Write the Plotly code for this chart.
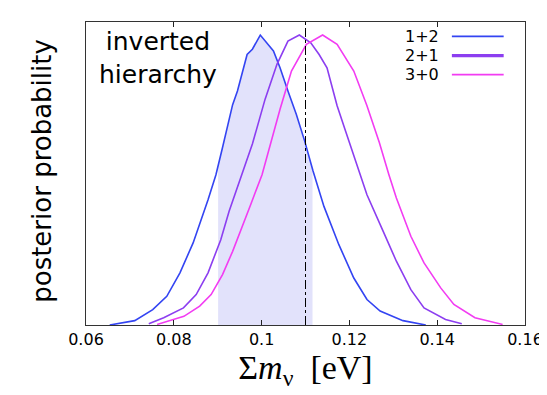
import numpy as np
import plotly.graph_objects as go

# ---- data ----
x_12 = [0.0654, 0.0711, 0.0752, 0.0784, 0.0814, 0.0844, 0.0878, 0.0896, 0.0911, 0.0934,
        0.0945, 0.0967, 0.0979, 0.0997, 0.1027, 0.1042, 0.1060, 0.1079, 0.1098, 0.1117,
        0.1142, 0.1176, 0.1210, 0.1240, 0.1270, 0.1322, 0.1374]
y_12 = [0.0, 0.015, 0.053, 0.099, 0.180, 0.283, 0.432, 0.518, 0.612, 0.760,
        0.807, 0.933, 0.951, 1.0, 0.945, 0.887, 0.807, 0.727, 0.635, 0.532,
        0.409, 0.277, 0.162, 0.088, 0.048, 0.015, 0.0]

x_21 = [0.0743, 0.0777, 0.0822, 0.0851, 0.0878, 0.0907, 0.0926, 0.0956, 0.0979, 0.1008,
        0.1035, 0.1060, 0.1086, 0.1112, 0.1131, 0.1149, 0.1172, 0.1191, 0.1209, 0.1225,
        0.1240, 0.1277, 0.1307, 0.1340, 0.1370, 0.1419, 0.1456]
y_21 = [0.004, 0.025, 0.059, 0.105, 0.180, 0.294, 0.392, 0.520, 0.624, 0.779,
        0.899, 0.979, 1.0, 0.973, 0.933, 0.887, 0.756, 0.670, 0.589, 0.520,
        0.449, 0.323, 0.220, 0.122, 0.059, 0.019, 0.004]

x_30 = [0.0762, 0.0823, 0.0859, 0.0885, 0.0911, 0.0934, 0.0975, 0.1001, 0.1042, 0.1068,
        0.1102, 0.1139, 0.1172, 0.1210, 0.1240, 0.1268, 0.1290, 0.1307, 0.1340, 0.1370,
        0.1408, 0.1438, 0.1486, 0.1549]
y_30 = [0.002, 0.030, 0.065, 0.105, 0.174, 0.254, 0.415, 0.518, 0.744, 0.876,
        0.968, 1.0, 0.968, 0.876, 0.756, 0.630, 0.518, 0.438, 0.306, 0.214,
        0.128, 0.071, 0.025, 0.002]

series_names = ["1+2", "2+1", "3+0"]
shade_lo, shade_hi = 0.0901, 0.1116   # credible interval of 1+2
vline_x = 0.110
tick_vals = [0.06, 0.08, 0.10, 0.12, 0.14, 0.16]
tick_text = ["0.06", "0.08", "0.1", "0.12", "0.14", "0.16"]

colors = ["#3344f2", "#8c3ef0", "#f23cf2"]
FONT = "DejaVu Sans"

fig = go.Figure()

# shaded region under the 1+2 curve
xs = np.linspace(shade_lo, shade_hi, 60)
ys = np.interp(xs, x_12, y_12)
fig.add_trace(go.Scatter(x=xs, y=ys, mode="lines", line=dict(width=0),
                         fill="tozeroy", fillcolor="#e2e2fb", showlegend=False,
                         hoverinfo="skip"))

for xv, yv, name, c in zip([x_12, x_21, x_30], [y_12, y_21, y_30], series_names, colors):
    fig.add_trace(go.Scatter(x=xv, y=yv, mode="lines", name=name,
                             line=dict(color=c, width=1.6), showlegend=False))

fig.add_vline(x=vline_x, line=dict(color="black", width=1, dash="dashdot"))

# manual legend (text left of sample line)
W, H = 446.7, 304.0
def px(xp):
    return (xp - 78) / W
def py(yp):
    return (317.5 - yp) / H

leg_y = [28.0, 47.3, 66.3]
leg_w = [1.8, 3.2, 1.8]
for name, c, yy, lw in zip(series_names, colors, leg_y, leg_w):
    fig.add_annotation(x=px(439), y=py(yy), xref="paper", yref="paper", text=name,
                       showarrow=False, xanchor="right", yanchor="middle",
                       font=dict(family=FONT, size=16, color="black"))
    fig.add_shape(type="line", xref="paper", yref="paper",
                  x0=px(450.3), x1=px(503), y0=py(yy), y1=py(yy),
                  line=dict(color=c, width=lw))

fig.add_annotation(x=px(151), y=py(50), xref="paper", yref="paper",
                   text="inverted<br>hierarchy", showarrow=False,
                   xanchor="center", yanchor="middle",
                   font=dict(family=FONT, size=25, color="black"))

# y axis title
fig.add_annotation(x=px(33), y=py(163), xref="paper", yref="paper",
                   text="posterior probability", showarrow=False, textangle=-90,
                   xanchor="center", yanchor="middle",
                   font=dict(family=FONT, size=26, color="black"))

fig.update_layout(
    width=547, height=395,
    margin=dict(l=78, r=22, t=13.5, b=77.5),
    paper_bgcolor="white", plot_bgcolor="white",
    showlegend=False,
    xaxis=dict(range=[0.06, 0.16], tickvals=tick_vals, ticktext=tick_text,
               ticks="inside", ticklen=5, tickwidth=1, tickcolor="#222",
               showline=True, linecolor="#333", linewidth=1.2, mirror="ticks",
               showgrid=False, zeroline=False,
               tickfont=dict(family=FONT, size=16, color="black"),
               title=dict(text="Σ<i>m</i><sub>ν</sub>  [eV]",
                          font=dict(family="Liberation Serif", size=34, color="black"),
                          standoff=6)),
    yaxis=dict(range=[0, 1.045], showticklabels=False, ticks="",
               showline=True, linecolor="#333", linewidth=1.2, mirror=True,
               showgrid=False, zeroline=False),
)

fig.write_html("out.html")
